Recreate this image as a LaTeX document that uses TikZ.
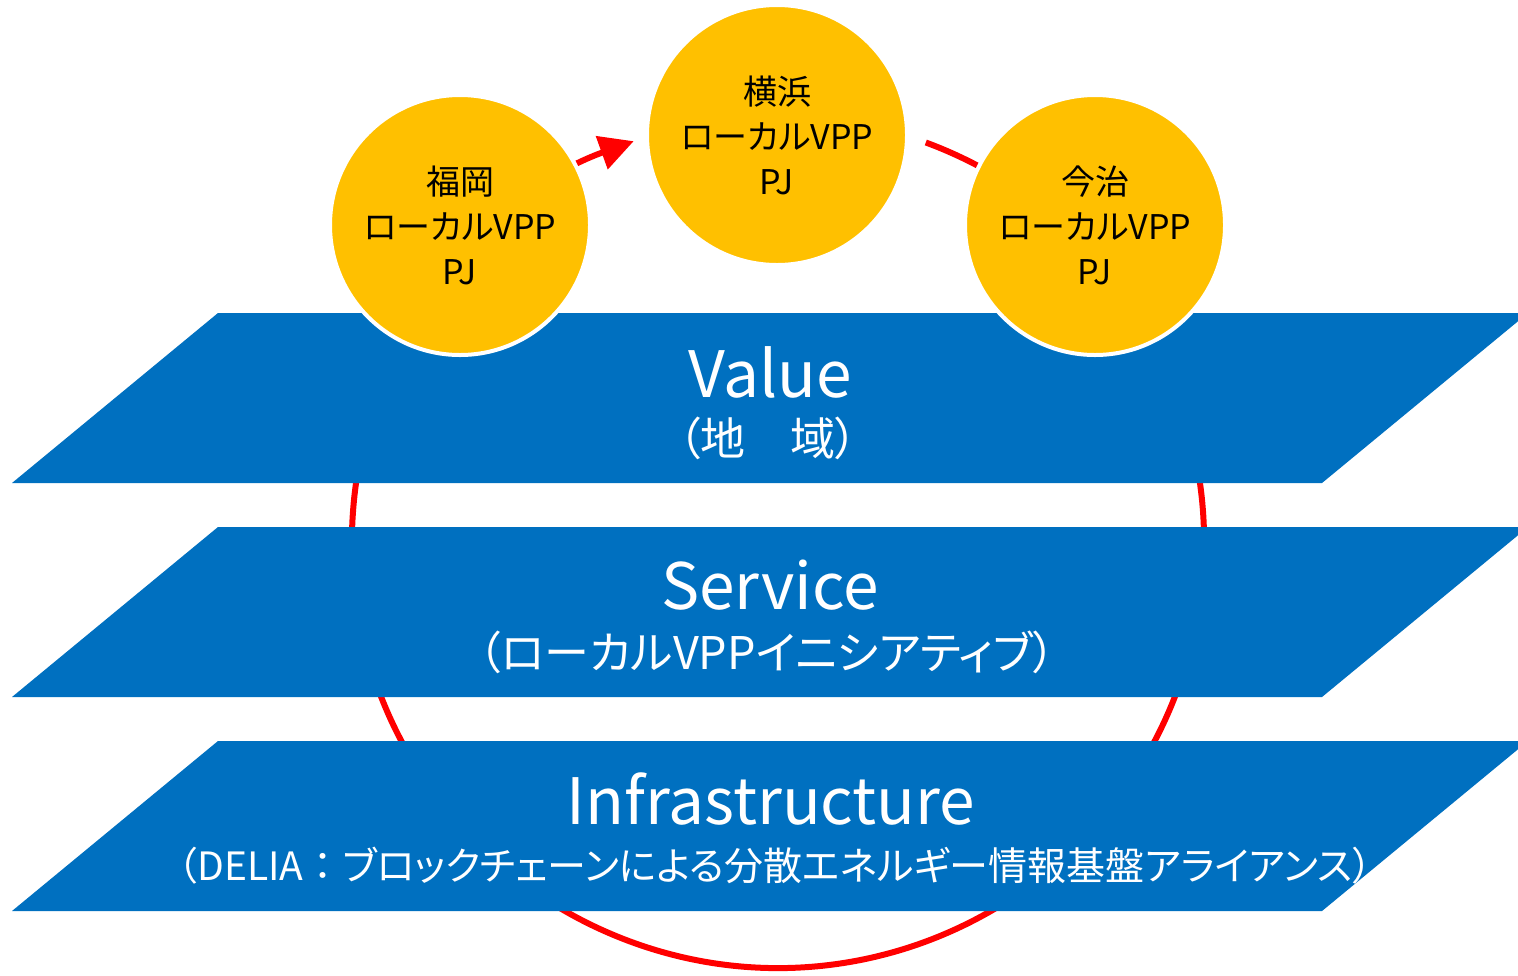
\documentclass[tikz,border=0pt]{standalone}
\usepackage{fontspec}
\setmainfont{Noto Sans CJK JP}[RawFeature=+palt]
\usetikzlibrary{arrows.meta,calc}
\definecolor{layerblue}{HTML}{0070C0}
\definecolor{pjyellow}{HTML}{FFC000}
\definecolor{cyclered}{HTML}{FF0000}

\begin{document}
\begin{tikzpicture}[x=0.5pt,y=-0.5pt,
    layer/.style={fill=layerblue},
    title/.style={text=white, inner sep=0pt, font=\fontsize{32}{34}\selectfont},
    subtitle/.style={text=white, inner sep=0pt, font=\fontsize{22.5}{26}\selectfont},
    pj/.style={circle, fill=pjyellow, draw=white, line width=2pt, minimum size=130pt,
      inner sep=0pt, align=center, font=\fontsize{17}{22.5}\selectfont}]
  \useasboundingbox (0,0) rectangle (1518,975);
  \clip (0,0) rectangle (1518,975);

  \coordinate (c) at (778,542);
  \coordinate (cyclestart) at ($(c)+(-69.7:426)$);
  \draw[cyclered, line width=3pt, -{Triangle[length=17pt,width=17pt]}]
    (cyclestart) arc[start angle=-69.7, end angle=250.2, radius=426];

  \fill[layer] (218,313) -- (1528,313) -- (1322,483) -- (12,483) -- cycle;
  \fill[layer] (218,527) -- (1528,527) -- (1322,697) -- (12,697) -- cycle;
  \fill[layer] (218,741) -- (1528,741) -- (1322,911) -- (12,911) -- cycle;

  \node[title] (value) at (770,372) {Value};
  \node[subtitle] (valuesub) at (768,438) {（地　域）};
  \node[title] (service) at (770,585) {Service};
  \node[subtitle] (servicesub) at (767,652) {（ローカルVPPイニシアティブ）};
  \node[title] (infra) at (771,799) {Infrastructure};
  \node[subtitle, font=\fontsize{19.5}{22}\selectfont] (infrasub) at (775,866)
    {（DELIA{\addfontfeatures{RawFeature=-palt}：}ブロックチェーンによる分散エネルギー情報基盤アライアンス）};

  \node[pj] (fukuoka) at (460,225) {福岡\\ローカルVPP\\PJ};
  \node[pj] (yokohama) at (777,135) {横浜\\ローカルVPP\\PJ};
  \node[pj] (imabari) at (1095,225) {今治\\ローカルVPP\\PJ};
\end{tikzpicture}
\end{document}
